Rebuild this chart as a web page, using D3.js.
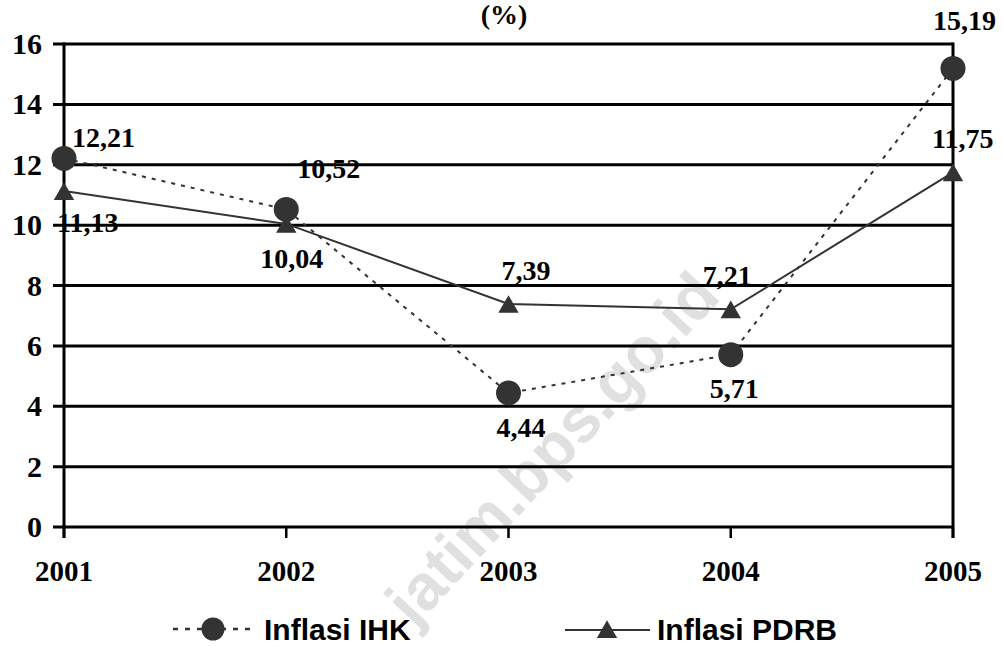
<!DOCTYPE html>
<html><head><meta charset="utf-8">
<script src="https://cdn.jsdelivr.net/npm/d3@7"></script>
<style>body{margin:0;background:#fff}svg{display:block}</style>
</head><body>
<svg id="c" width="1003" height="646"></svg>
<script>
const years = ["2001","2002","2003","2004","2005"];
const ihk = [12.21, 10.52, 4.44, 5.71, 15.19];
const pdrb = [11.13, 10.04, 7.39, 7.21, 11.75];
const yTicks = [0,2,4,6,8,10,12,14,16];
const ihkLabelPos = [[8,-11],[11,-31],[-12,44],[-21,43],[-20,-38]];
const pdrbLabelPos = [[-7,41],[-26,44],[-7,-24],[-28,-24],[-21,-24]];
const fmt = v => v.toFixed(2).replace(".", ",");

const svg = d3.select("#c");
const x = d3.scalePoint().domain(years).range([64, 953]);
const y = d3.scaleLinear().domain([0,16]).range([527, 44]);
const ink = "#333";
const serif = "'Liberation Serif','Times New Roman',serif";
const sans = "'Liberation Sans',Arial,sans-serif";

// watermark
svg.append("text").attr("transform","translate(552,448) rotate(-47)")
  .attr("text-anchor","middle").attr("dominant-baseline","central")
  .attr("font-family",sans).attr("font-weight","bold")
  .attr("font-size",64).attr("fill","#e0e0e0").text("jatim.bps.go.id");

// title fragment
svg.append("text").attr("x",504).attr("y",24).attr("text-anchor","middle")
  .attr("font-family",serif).attr("font-weight","bold").attr("font-size",28).text("(%)");

// gridlines
svg.append("g").selectAll("line").data(yTicks).join("line")
  .attr("x1",53).attr("x2",953).attr("y1",d=>y(d)).attr("y2",d=>y(d))
  .attr("stroke","#000").attr("stroke-width",3);
svg.append("line").attr("x1",64).attr("x2",64).attr("y1",y(16)-1.5).attr("y2",538).attr("stroke","#000").attr("stroke-width",3);
svg.append("line").attr("x1",953).attr("x2",953).attr("y1",y(16)-1.5).attr("y2",538).attr("stroke","#000").attr("stroke-width",3);
svg.append("g").selectAll("line").data(years).join("line")
  .attr("x1",d=>x(d)).attr("x2",d=>x(d)).attr("y1",527).attr("y2",538)
  .attr("stroke","#000").attr("stroke-width",2.5);

// y labels
svg.append("g").selectAll("text").data(yTicks).join("text")
  .attr("x",42).attr("y",d=>y(d)+10).attr("text-anchor","end")
  .attr("font-family",serif).attr("font-weight","bold").attr("font-size",30).text(d=>d);
// x labels
svg.append("g").selectAll("text").data(years).join("text")
  .attr("x",d=>x(d)).attr("y",581).attr("text-anchor","middle")
  .attr("font-family",serif).attr("font-weight","bold").attr("font-size",29).text(d=>d);

const line = d3.line().x((d,i)=>x(years[i])).y(d=>y(d));
svg.append("path").datum(ihk).attr("d",line).attr("fill","none")
  .attr("stroke",ink).attr("stroke-width",2).attr("stroke-dasharray","4,6");
svg.append("path").datum(pdrb).attr("d",line).attr("fill","none")
  .attr("stroke",ink).attr("stroke-width",2);

const tri = d3.symbol().type(d3.symbolTriangle).size(180);
svg.append("g").selectAll("path").data(pdrb).join("path")
  .attr("transform",(d,i)=>`translate(${x(years[i])},${y(d)+3})`).attr("d",tri).attr("fill",ink);
svg.append("g").selectAll("circle").data(ihk).join("circle")
  .attr("cx",(d,i)=>x(years[i])).attr("cy",d=>y(d)).attr("r",12.5).attr("fill",ink);

// data labels
svg.append("g").selectAll("text").data(ihk).join("text")
  .attr("x",(d,i)=>x(years[i])+ihkLabelPos[i][0]).attr("y",(d,i)=>y(d)+ihkLabelPos[i][1])
  .attr("font-family",serif).attr("font-weight","bold").attr("font-size",28).text(fmt);
svg.append("g").selectAll("text").data(pdrb).join("text")
  .attr("x",(d,i)=>x(years[i])+pdrbLabelPos[i][0]).attr("y",(d,i)=>y(d)+pdrbLabelPos[i][1])
  .attr("font-family",serif).attr("font-weight","bold").attr("font-size",28).text(fmt);

// legend
const lg = svg.append("g");
lg.append("line").attr("x1",173).attr("x2",252).attr("y1",629).attr("y2",629)
  .attr("stroke",ink).attr("stroke-width",2.5).attr("stroke-dasharray","5,7");
lg.append("circle").attr("cx",213).attr("cy",629).attr("r",11.5).attr("fill",ink);
lg.append("text").attr("x",264).attr("y",640).attr("font-family",sans).attr("font-weight","bold")
  .attr("font-size",30).attr("fill","#000").text("Inflasi IHK");
lg.append("line").attr("x1",565).attr("x2",650).attr("y1",630).attr("y2",630)
  .attr("stroke",ink).attr("stroke-width",2);
lg.append("path").attr("transform","translate(607,632)").attr("d",tri).attr("fill",ink);
lg.append("text").attr("x",657).attr("y",640).attr("font-family",sans).attr("font-weight","bold")
  .attr("font-size",30).attr("fill","#000").text("Inflasi PDRB");
</script>
</body></html>
